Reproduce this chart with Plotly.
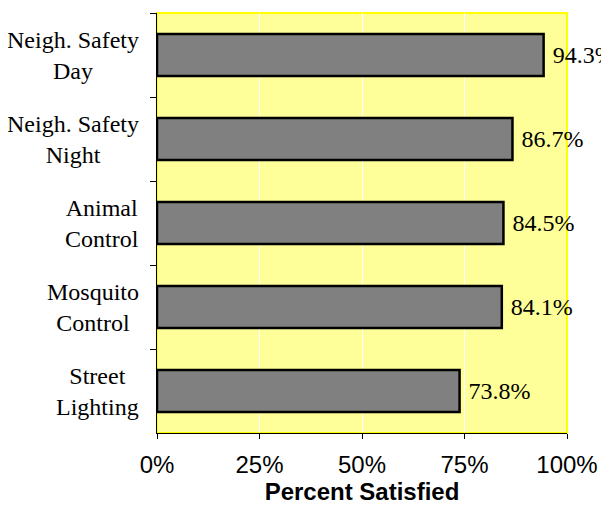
import plotly.graph_objects as go

# categories in display order, top to bottom
services = ["Neigh. Safety<br>Day", "Neigh. Safety<br>Night", "Animal<br>Control",
            "Mosquito<br>Control", "Street<br>Lighting"]
pct_satisfied = [0.943, 0.867, 0.845, 0.841, 0.738]
x_ticks = [0, 0.25, 0.5, 0.75, 1.0]
x_tick_labels = ["0%", "25%", "50%", "75%", "100%"]

serif = "Liberation Serif, Times New Roman, serif"
sans = "Liberation Sans, Arial, sans-serif"

fig = go.Figure(
    go.Bar(
        x=pct_satisfied,
        y=services,
        orientation="h",
        marker=dict(color="#808080", line=dict(color="black", width=2.5)),
        text=[f" {v * 100:.1f}%" for v in pct_satisfied],
        textposition="outside",
        textfont=dict(family=serif, size=24, color="black"),
        constraintext="none",
        cliponaxis=False,
        hoverinfo="skip",
    )
)

# centred multi-line category labels
for s in services:
    fig.add_annotation(
        x=0, y=s, xref="paper", yref="y",
        text=s, showarrow=False, xanchor="right", xshift=-16,
        align="center", font=dict(family=serif, size=24, color="black"),
    )

# yellow frame around the plot area
fig.add_shape(type="rect", xref="paper", yref="paper", x0=0, y0=0, x1=1, y1=1,
              line=dict(color="#FFFF00", width=2), layer="below")

# the page body adds an 8px margin, so the figure is offset accordingly
fig.update_layout(
    width=609, height=508,
    margin=dict(l=149, r=50, t=5, b=83),
    paper_bgcolor="white",
    plot_bgcolor="#FFFF99",
    bargap=0.5,
    showlegend=False,
    xaxis=dict(
        range=[0, 1],
        tickvals=x_ticks,
        ticktext=x_tick_labels,
        tickfont=dict(family=sans, size=24, color="black"),
        showgrid=True, gridcolor="white", gridwidth=1,
        zeroline=False,
        showline=True, linecolor="black", linewidth=1,
        ticks="outside", ticklen=5, tickcolor="black",
        ticklabelstandoff=5,
        title=dict(text="<b>Percent Satisfied</b>", standoff=5,
                   font=dict(family=sans, size=24, color="black")),
    ),
    yaxis=dict(
        autorange="reversed",
        showticklabels=False,
        showgrid=False, zeroline=False,
        showline=True, linecolor="black", linewidth=1,
        ticks="outside", ticklen=6, tickcolor="black",
        tickson="boundaries",
    ),
)

fig.write_html("out.html")
